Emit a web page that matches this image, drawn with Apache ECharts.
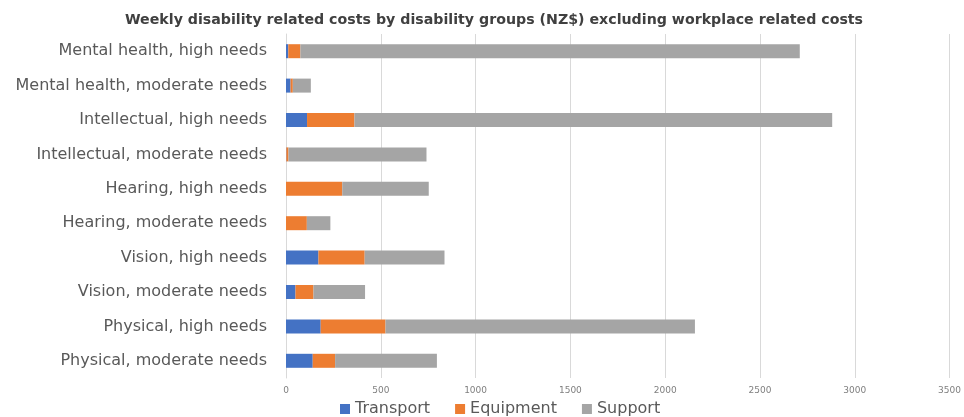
<!DOCTYPE html>
<html>
<head>
<meta charset="utf-8">
<script src="https://cdn.jsdelivr.net/npm/echarts@6/dist/echarts.min.js"></script>
<style>
  html, body { margin: 0; padding: 0; background: #ffffff; }
  #chart { width: 964px; height: 417px; }
</style>
</head>
<body>
<div id="chart"></div>
<script>
// Disability groups, listed bottom to top as drawn on the category axis
const categories = [
  'Physical, moderate needs',
  'Physical, high needs',
  'Vision, moderate needs',
  'Vision, high needs',
  'Hearing, moderate needs',
  'Hearing, high needs',
  'Intellectual, moderate needs',
  'Intellectual, high needs',
  'Mental health, moderate needs',
  'Mental health, high needs'
];

// Weekly costs (NZ$) per component
const transport = [141, 183, 50, 171, 0, 0, 2, 111, 24, 12];
const equipment = [118, 342, 95, 244, 110, 297, 11, 250, 12, 64];
const support   = [537, 1632, 272, 421, 124, 456, 728, 2520, 95, 2634];

const seriesNames = ['Transport', 'Equipment', 'Support'];
const seriesColors = ['#4472C4', '#ED7D31', '#A5A5A5'];
const seriesData = [transport, equipment, support];

const FONT = 'DejaVu Sans';
const chart = echarts.init(document.getElementById('chart'), null, { renderer: 'canvas' });

chart.setOption({
  animation: false,
  textStyle: { fontFamily: FONT },
  title: {
    text: 'Weekly disability related costs by disability groups (NZ$) excluding workplace related costs',
    left: 489,
    textAlign: 'center',
    top: 8,
    textStyle: { fontFamily: FONT, fontSize: 14.2, fontWeight: 'bold', color: '#404040' }
  },
  legend: {
    data: seriesNames,
    top: 396,
    left: 335,
    itemWidth: 10,
    itemHeight: 10,
    itemGap: 25,
    icon: 'rect',
    textStyle: { fontFamily: FONT, fontSize: 16, color: '#595959' }
  },
  grid: { left: 286, right: 7, top: 34, bottom: 39, containLabel: false },
  xAxis: {
    type: 'value',
    min: 0,
    max: 3500,
    interval: 500,
    axisLine: { show: false },
    axisTick: { show: false },
    splitLine: { show: true, lineStyle: { color: '#d9d9d9', width: 1 } },
    axisLabel: {
      fontFamily: FONT, fontSize: 9, color: '#7f7f7f', margin: 8,
      formatter: (v) => String(v)
    }
  },
  yAxis: {
    type: 'category',
    data: categories,
    axisLine: { show: true, lineStyle: { color: '#d9d9d9' } },
    axisTick: { show: false },
    axisLabel: { fontFamily: FONT, fontSize: 16, color: '#595959', margin: 19 }
  },
  series: seriesNames.map((name, i) => ({
    name: name,
    type: 'bar',
    stack: 'cost',
    barWidth: 14,
    itemStyle: { color: seriesColors[i] },
    data: seriesData[i]
  }))
});
</script>
</body>
</html>
